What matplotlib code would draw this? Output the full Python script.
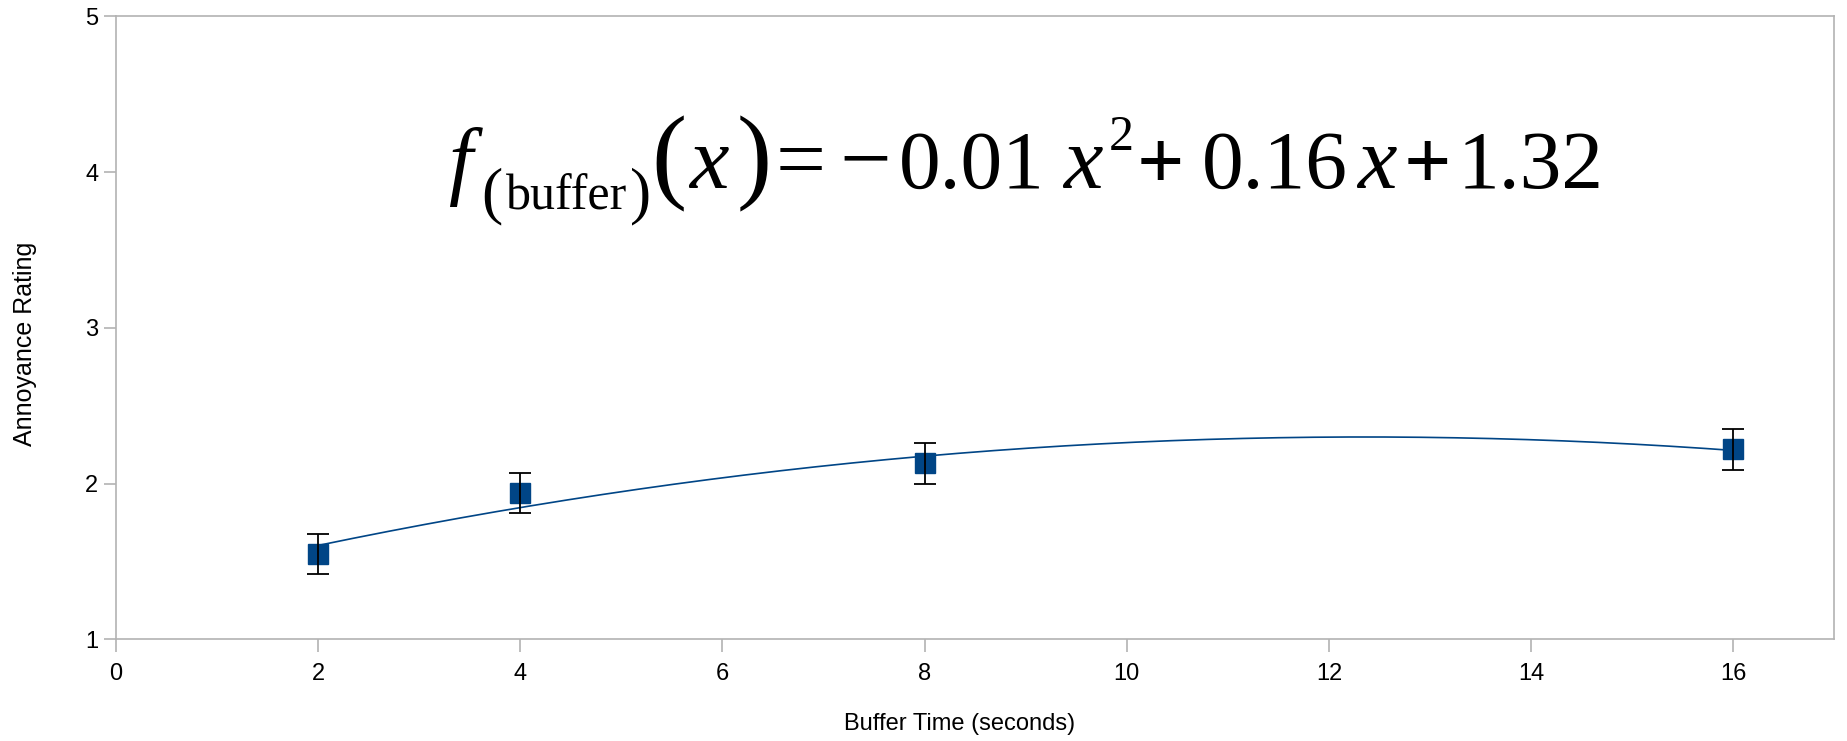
import numpy as np
import matplotlib
matplotlib.use("Agg")
import matplotlib.pyplot as plt

plt.rcParams['font.family'] = ['Liberation Sans', 'DejaVu Sans']

# data
buffer_time = [2, 4, 8, 16]
rating = [1.55, 1.94, 2.13, 2.22]
rating_err = [0.13, 0.13, 0.13, 0.13]

blue = "#004586"
grey = "#b3b3b3"

W, H = 1847, 741
fig = plt.figure(figsize=(W / 100, H / 100), dpi=100)
ax = fig.add_axes([0.0627, 0.137, 0.9305, 0.841])

# polynomial trend line (order 2)
coef = np.polyfit(buffer_time, rating, 2)
xs = np.linspace(min(buffer_time), max(buffer_time), 200)
ax.plot(xs, np.polyval(coef, xs), color=blue, lw=1.2, zorder=2)

ax.errorbar(buffer_time, rating, yerr=rating_err, fmt='none', ecolor='black',
            elinewidth=1.3, capsize=8, capthick=1.3, zorder=4)
ax.plot(buffer_time, rating, 's', color=blue, markersize=14.5, zorder=3)

ax.set_xlim(0, 17)
ax.set_ylim(1, 5)
ax.set_xticks([0, 2, 4, 6, 8, 10, 12, 14, 16])
ax.set_yticks([1, 2, 3, 4, 5])

for s in ax.spines.values():
    s.set_color(grey)
    s.set_linewidth(1.2)
ax.tick_params(axis='both', colors=grey, labelcolor='black', labelsize=17,
               length=9, width=1.2)
ax.tick_params(axis='x', pad=8)

ax.set_xlabel("Buffer Time (seconds)", fontsize=17)
ax.set_ylabel("Annoyance Rating", fontsize=18)
ax.xaxis.set_label_coords(0.491, -0.118)
ax.yaxis.set_label_coords(-0.046, 0.475)

# trend line equation, set piece by piece like the office formula
# (text, centre x px, baseline y px, size, italic, bold)
eq = [
    ("f", 460, 188, 62, True, False),
    ("(", 492, 211, 46, False, False),
    ("buffer", 567, 209, 36, False, False),
    (")", 641, 211, 46, False, False),
    ("(", 669, 189, 76, False, False),
    ("x", 709, 188, 64, True, False),
    (")", 754, 189, 76, False, False),
    ("=", 801, 188, 64, False, False),
    ("\u2212", 865, 188, 66, False, False),
    ("0.01", 972, 188, 60, False, False),
    ("x", 1083, 188, 64, True, False),
    ("2", 1121, 150, 36, False, False),
    ("+", 1160, 188, 60, False, True),
    ("0.16", 1275, 188, 60, False, False),
    ("x", 1377, 188, 64, True, False),
    ("+", 1427, 188, 60, False, True),
    ("1.32", 1531, 188, 60, False, False),
]
for txt, px, py, size, it, bold in eq:
    fig.text(px / W, 1 - py / H, txt, family='Liberation Serif', fontsize=size,
             style='italic' if it else 'normal',
             weight='bold' if bold else 'normal',
             ha='center', va='baseline')

fig.savefig("out.png", dpi=100)
